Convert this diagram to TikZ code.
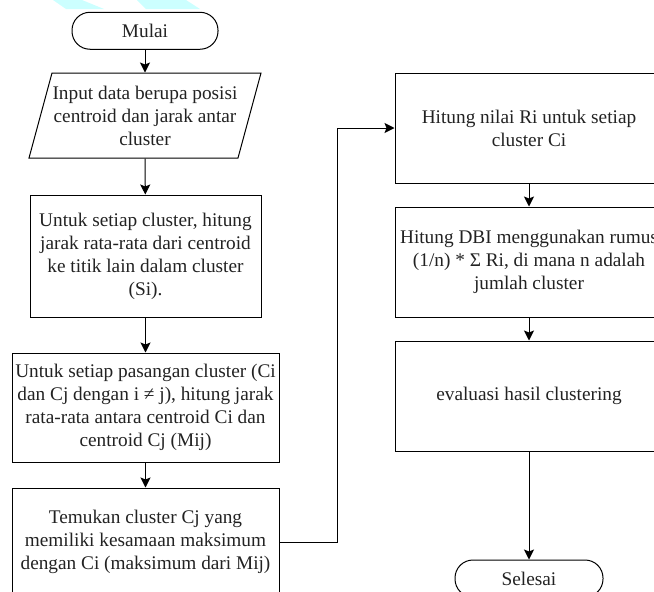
\documentclass[tikz,border=0pt]{standalone}
\usepackage{fontspec}
\setmainfont{Liberation Serif}
\usetikzlibrary{arrows.meta}
\definecolor{wm}{RGB}{204,255,255}
\definecolor{txt}{RGB}{34,34,34}
\newcommand\fsz{\fontsize{19.3}{23}\selectfont}
\begin{document}
\begin{tikzpicture}[x=1pt,y=-1pt,
  box/.style={draw, line width=1pt, rectangle, inner sep=0pt, align=center, font=\fsz, text=txt},
  term/.style={draw, line width=1pt, rectangle, rounded corners=18pt, inner sep=0pt, minimum width=146pt, minimum height=37pt, font=\fsz, text=txt},
  arr/.style={line width=1pt, -{Stealth[length=10pt,width=10pt,inset=2pt]}}]
\useasboundingbox (0,0) rectangle (654,592);
\clip (0,0) rectangle (654,592);
% watermark fragment
\fill[wm] (53,0) -- (82,0) -- (104,9) -- (66,9) -- cycle;
\fill[wm] (137,0) -- (186,0) -- (200,9) -- (146,9) -- cycle;
% left column
\node[term] (start) at (145,30.75) {Mulai};
\draw[line width=1pt] (52,73) -- (261,73) -- (238,158) -- (29,158) -- cycle;
\node[box, draw=none, minimum width=232pt, minimum height=85pt] (input) at (145,115.5)
  {Input data berupa posisi\\centroid dan jarak antar\\cluster};
\node[box, minimum width=231pt, minimum height=122pt] (si) at (145.5,256)
  {Untuk setiap cluster, hitung\\jarak rata-rata dari centroid\\ke titik lain dalam cluster\\(Si).};
\node[box, minimum width=267pt, minimum height=109pt] (mij) at (145.5,407.5)
  {\makebox[0pt]{Untuk setiap pasangan cluster (Ci}\\dan Cj dengan i ≠ j), hitung jarak\\rata-rata antara centroid Ci dan\\centroid Cj (Mij)};
\node[box, minimum width=267pt, minimum height=108pt] (max) at (145.5,542)
  {Temukan cluster Cj yang\\memiliki kesamaan maksimum\\dengan Ci (maksimum dari Mij)};
% right column
\node[box, minimum width=268pt, minimum height=110pt] (ri) at (529,128)
  {Hitung nilai Ri untuk setiap\\cluster Ci};
\node[box, minimum width=268pt, minimum height=110pt] (dbi) at (529,262)
  {\makebox[0pt]{Hitung DBI menggunakan rumus}\\(1/n) * Σ Ri, di mana n adalah\\jumlah cluster};
\node[box, minimum width=268pt, minimum height=110pt] (eval) at (529,396)
  {evaluasi hasil clustering};
\node[term, minimum width=148pt] (end) at (529,578.5) {Selesai};
\coordinate (bend) at (337,542);
% connectors
\draw[arr] (start) -- (input);
\draw[arr] (input) -- (si);
\draw[arr] (si) -- (mij);
\draw[arr] (mij) -- (max);
\draw[arr] (max.east) -- (bend) |- (ri.west);
\draw[arr] (ri) -- (dbi);
\draw[arr] (dbi) -- (eval);
\draw[arr] (eval) -- (end);
\end{tikzpicture}
\end{document}
